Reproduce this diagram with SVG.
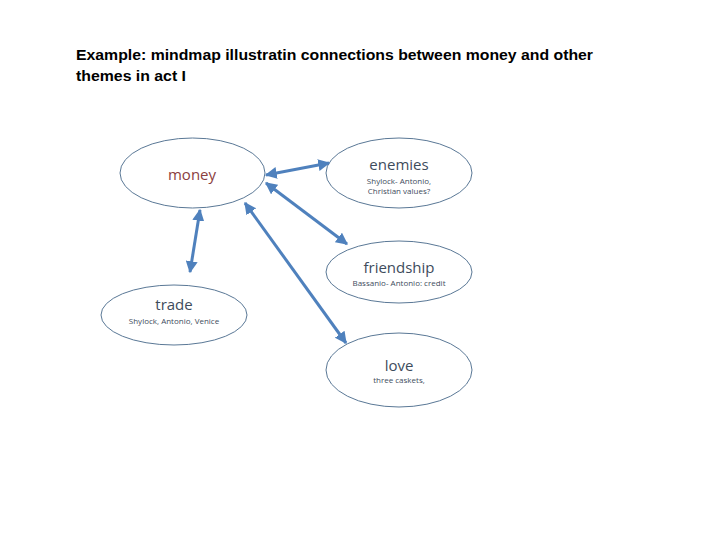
<svg xmlns="http://www.w3.org/2000/svg" width="720" height="540" viewBox="0 0 720 540">
<defs>
<marker id="ah" viewBox="0 0 10 10" refX="9" refY="5" markerWidth="4" markerHeight="4" orient="auto-start-reverse" markerUnits="strokeWidth">
<path d="M0,0 L10,5 L0,10 z" fill="#4F81BD"/>
</marker>
<style>
.node ellipse{fill:#fff;stroke:#5a7896;stroke-width:1}
.lbl{font-family:"Open Sans","Liberation Sans",sans-serif;text-anchor:middle;fill:#3e4c5c}
.main{font-size:15px}
.sub{font-size:8px}
.conn line{stroke:#4F81BD;stroke-width:3;marker-start:url(#ah);marker-end:url(#ah)}
</style>
</defs>
<rect width="720" height="540" fill="#fff"/>
<g id="title" font-family="'Liberation Sans',Arial,sans-serif" font-weight="bold" font-size="15" fill="#000">
<text x="76" y="60" textLength="517" lengthAdjust="spacingAndGlyphs">Example: mindmap illustratin connections between money and other</text>
<text x="76" y="81" textLength="110" lengthAdjust="spacingAndGlyphs">themes in act I</text>
</g>
<g id="money" class="node">
<ellipse cx="192.5" cy="173" rx="72.5" ry="35"/>
<text class="lbl main" x="192" y="180" style="fill:#8b4040">money</text>
</g>
<g id="enemies" class="node">
<ellipse cx="399" cy="173" rx="73" ry="35"/>
<text class="lbl main" x="399" y="170">enemies</text>
<text class="lbl sub" x="399" y="184">Shylock- Antonio,</text>
<text class="lbl sub" x="399" y="194">Christian values?</text>
</g>
<g id="friendship" class="node">
<ellipse cx="399" cy="272" rx="73" ry="31"/>
<text class="lbl main" x="399" y="273">friendship</text>
<text class="lbl sub" x="399" y="286">Bassanio- Antonio: credit</text>
</g>
<g id="trade" class="node">
<ellipse cx="174" cy="315" rx="73" ry="30"/>
<text class="lbl main" x="174" y="310">trade</text>
<text class="lbl sub" x="174" y="324">Shylock, Antonio, Venice</text>
</g>
<g id="love" class="node">
<ellipse cx="399" cy="370" rx="73" ry="37"/>
<text class="lbl main" x="399" y="371">love</text>
<text class="lbl sub" x="399" y="383">three caskets,</text>
</g>
<g id="connectors" class="conn">
<line x1="266" y1="175" x2="329" y2="163"/>
<line x1="266" y1="183" x2="347" y2="244"/>
<line x1="245" y1="203" x2="346" y2="343"/>
<line x1="200" y1="210" x2="190" y2="272"/>
</g>
</svg>
